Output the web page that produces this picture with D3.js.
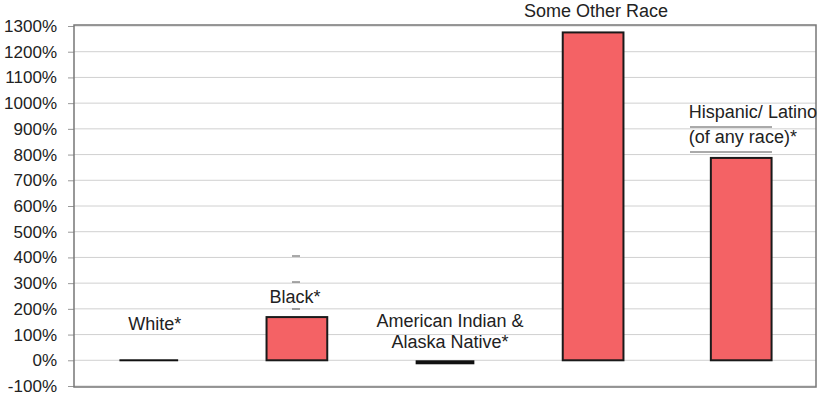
<!DOCTYPE html>
<html>
<head>
<meta charset="utf-8">
<script src="https://cdn.jsdelivr.net/npm/d3@7"></script>
<style>
  body { margin: 0; background: #fff; overflow: hidden; }
  text { font-family: "Liberation Sans", Arial, sans-serif; fill: #222; }
</style>
</head>
<body>
<script>
// data
var categories = ["White*", "Black*", "American Indian & Alaska Native*", "Some Other Race", "Hispanic/ Latino (of any race)*"];
var values = [0, 168, -4, 1275, 787];
var tickValues = [-100, 0, 100, 200, 300, 400, 500, 600, 700, 800, 900, 1000, 1100, 1200, 1300];
// label lines for each bar
var labelLines = [["White*"], ["Black*"], ["American Indian &", "Alaska Native*"], ["Some Other Race"], ["Hispanic/ Latino", "(of any race)*"]];

var width = 818, height = 396;
var plotLeft = 74, plotRight = 816, plotTop = 26, plotBottom = 386;

var svg = d3.select("body").append("svg")
  .attr("width", width)
  .attr("height", height);

var x = d3.scaleBand().domain(categories).range([plotLeft, plotRight]).paddingInner(0.59).paddingOuter(0.3);
var y = d3.scaleLinear().domain([-100, 1300]).range([plotBottom, plotTop]);

// gridlines
svg.append("g").selectAll("line")
  .data(tickValues)
  .enter().append("line")
  .attr("x1", plotLeft).attr("x2", plotRight)
  .attr("y1", function (d) { return y(d); })
  .attr("y2", function (d) { return y(d); })
  .attr("stroke", "#d0d0d0")
  .attr("stroke-width", 1);

// y axis
var axis = svg.append("g")
  .attr("transform", "translate(" + plotLeft + ",0)")
  .call(d3.axisLeft(y).tickValues(tickValues).tickSize(6).tickPadding(11)
    .tickFormat(function (d) { return d + "%"; }));
axis.select(".domain").remove();
axis.selectAll("line").attr("stroke", "#999");
axis.selectAll("text").style("font-size", "17px").attr("fill", "#222")
  .attr("font-family", "Liberation Sans, Arial, sans-serif");

// frame
svg.append("rect")
  .attr("x", plotLeft).attr("y", plotTop - 1)
  .attr("width", plotRight - plotLeft).attr("height", plotBottom - plotTop + 2)
  .attr("fill", "none").attr("stroke", "#777").attr("stroke-width", 1.5);

// bars
var bars = svg.append("g");
categories.forEach(function (c, i) {
  var v = values[i];
  if (Math.abs(v) < 10) {
    // near-zero values drawn as a flat dark bar
    bars.append("rect")
      .attr("x", x(c) + 1)
      .attr("y", y(0) - 1 + (v < 0 ? 1 : 0))
      .attr("width", x.bandwidth() - 2)
      .attr("height", v < 0 ? 4 : 2)
      .attr("fill", "#111");
  } else {
    bars.append("rect")
      .attr("x", x(c))
      .attr("y", y(Math.max(0, v)))
      .attr("width", x.bandwidth())
      .attr("height", Math.abs(y(v) - y(0)))
      .attr("fill", "#f46265")
      .attr("stroke", "#1a1a1a")
      .attr("stroke-width", 2);
  }
});

// labels
var labelPos = [
  { dx: 6, y: 330 },
  { dx: -2, y: 303 },
  { dx: 5, y: 327 },
  { dx: 3, y: 17 },
  { dx: 0, y: 118 }
];
categories.forEach(function (c, i) {
  var cx = x(c) + x.bandwidth() / 2 + labelPos[i].dx;
  var t = svg.append("text")
    .attr("text-anchor", i == 4 ? "start" : "middle")
    .style("font-size", "18px");
  labelLines[i].forEach(function (line, j) {
    t.append("tspan")
      .attr("x", i == 4 ? x(c) - 22 : cx)
      .attr("y", labelPos[i].y + j * (i == 4 ? 25 : 21))
      .text(line);
  });
});

// small scan marks around some labels
var marks = [
  [292, 256, 8], [292, 282, 8], [292, 309, 8],
  [690, 127, 82], [690, 152, 82]
];
svg.append("g").selectAll("line")
  .data(marks)
  .enter().append("line")
  .attr("x1", function (d) { return d[0]; })
  .attr("x2", function (d) { return d[0] + d[2]; })
  .attr("y1", function (d) { return d[1]; })
  .attr("y2", function (d) { return d[1]; })
  .attr("stroke", "#555").attr("stroke-width", 1);
</script>
</body>
</html>
